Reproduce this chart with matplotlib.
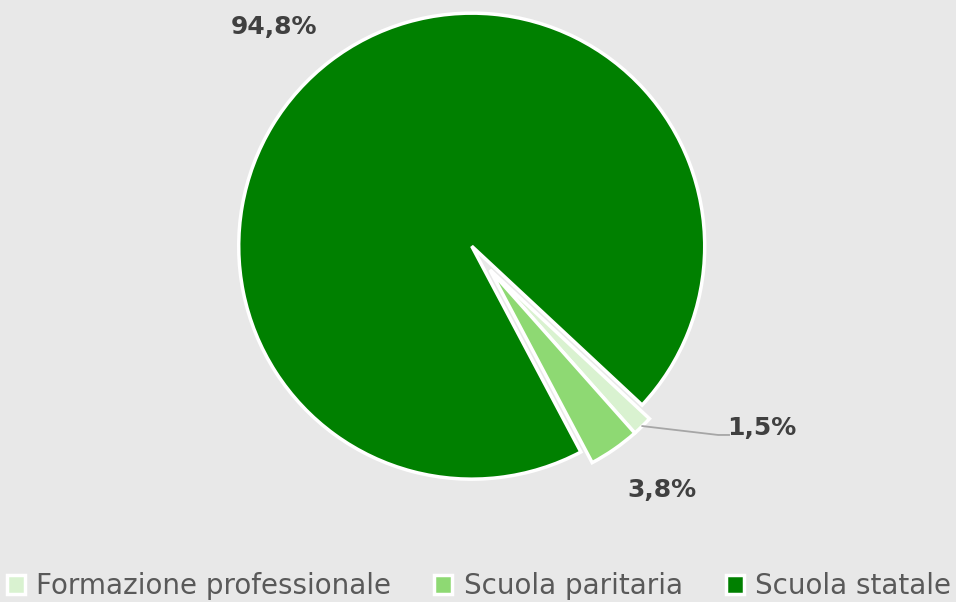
import numpy as np
import matplotlib.pyplot as plt

# dati
categorie = ["Formazione professionale", "Scuola paritaria", "Scuola statale"]
quote = [1.5, 3.8, 94.8]
etichette = ["1,5%", "3,8%", "94,8%"]

colori = ["#D9F2D0", "#8ED973", "#008000"]
SFONDO = "#E8E8E8"
TESTO = "#404040"

fig = plt.figure(figsize=(9.56, 6.02), dpi=100, facecolor=SFONDO)
ax = fig.add_axes([0, 0, 1, 1])
ax.set_facecolor(SFONDO)

wedges, _ = ax.pie(quote, colors=colori, startangle=-43, counterclock=False,
                   explode=[0, 0, 0.129], radius=1,
                   wedgeprops=dict(edgecolor="white", linewidth=2.5))
# le due fette piccole sono un po' piu' corte
for w in wedges[:2]:
    w.set_radius(0.936)

ax.set_xlim(-490 / 233, (956 - 490) / 233)
ax.set_ylim((270 - 602) / 233, 270 / 233)
ax.set_aspect("equal")
ax.axis("off")

# etichette
pos_etichette = [(1.167, -0.678), (0.738, -0.944), (-0.927, 1.043)]
for (x, y), txt in zip(pos_etichette, etichette):
    ax.text(x, y, txt, ha="center", va="center", fontsize=18,
            fontweight="bold", color=TESTO)

# linea guida per 1,5%
w = wedges[0]
mid = np.deg2rad((w.theta1 + w.theta2) / 2)
x0, y0 = w.r * np.cos(mid) + w.center[0], w.r * np.sin(mid) + w.center[1]
ax.plot([x0, 0.979, 1.026], [y0, -0.708, -0.708], color="#A6A6A6", lw=1.3)

leg = fig.legend(wedges, categorie, loc="center", ncol=3,
                 bbox_to_anchor=(0.501, 1 - 586 / 602), frameon=False,
                 handlelength=0.65, handleheight=0.65,
                 handletextpad=0.4, columnspacing=1.55,
                 borderpad=0, borderaxespad=0,
                 prop={"family": "DejaVu Sans", "size": 20})
for t in leg.get_texts():
    t.set_color("#595959")

fig.savefig("out.png", dpi=100, facecolor=SFONDO)
